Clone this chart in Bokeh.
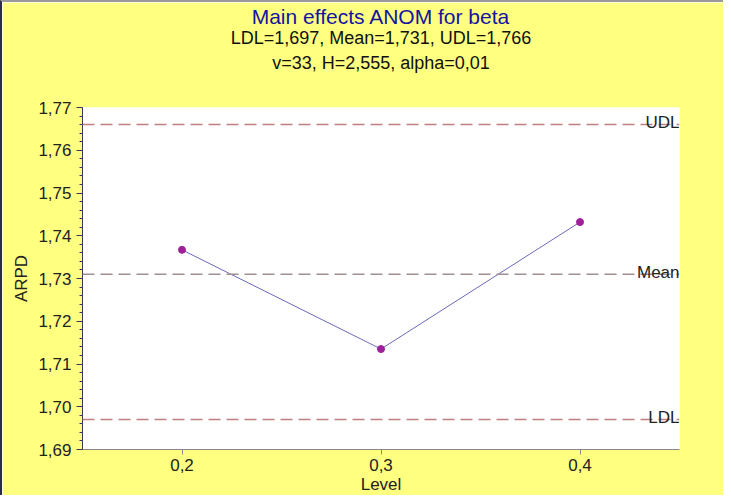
from bokeh.plotting import figure
from bokeh.models import FixedTicker, Span, Label, Range1d, Title, LinearAxis
from bokeh.embed import file_html
from bokeh.resources import INLINE
import numpy as np

# ---- data ----
levels = [0.2, 0.3, 0.4]
arpd = [1.7367, 1.7135, 1.7432]
limit_names = ["LDL", "Mean", "UDL"]
limit_values = [1.697, 1.731, 1.766]
x_ticks = [0.2, 0.3, 0.4]
x_tick_labels = ["0,2", "0,3", "0,4"]
y_ticks = [1.69, 1.70, 1.71, 1.72, 1.73, 1.74, 1.75, 1.76, 1.77]
y_tick_labels = ["1,69", "1,70", "1,71", "1,72", "1,73", "1,74", "1,75", "1,76", "1,77"]
title_text = "Main effects ANOM for beta"
subtitle1 = "LDL=1,697, Mean=1,731, UDL=1,766"
subtitle2 = "v=33, H=2,555, alpha=0,01"

FONT = "Liberation Sans"
YELLOW = "#FFFF80"
TXT = "#222222"

p = figure(width=721, height=493,
           min_border_left=80, min_border_right=46,
           min_border_top=103, min_border_bottom=48,
           x_range=Range1d(0.15, 0.45), y_range=Range1d(1.69, 1.77),
           output_backend="svg", toolbar_location=None,
           background_fill_color="white", border_fill_color=YELLOW,
           outline_line_color=None)
p.styles = {"border-top": "2px solid #9a9a9a", "border-left": "2px solid #2a2a4a",
            "box-sizing": "content-box"}
p.xgrid.grid_line_color = None
p.ygrid.grid_line_color = None

# y axis
minor = [float(v) for v in np.round(np.arange(1.69, 1.7701, 0.002), 3)]
p.yaxis.ticker = FixedTicker(ticks=y_ticks, minor_ticks=minor)
p.yaxis.major_label_overrides = dict(zip(y_ticks, y_tick_labels))
p.yaxis.axis_label = "ARPD"
p.yaxis.axis_line_color = "#3a3a60"
p.yaxis.major_tick_line_color = "#3a3a60"
p.yaxis.minor_tick_line_color = "#3a3a60"
p.yaxis.major_tick_out = 6
p.yaxis.major_tick_in = 0
p.yaxis.minor_tick_out = 3
p.yaxis.minor_tick_in = 0
p.yaxis.major_label_standoff = 5
p.yaxis.axis_label_standoff = 4

# x axis
p.xaxis.ticker = FixedTicker(ticks=x_ticks, minor_ticks=[])
p.xaxis.major_label_overrides = dict(zip(x_ticks, x_tick_labels))
p.xaxis.axis_label = "Level"
p.xaxis.axis_line_color = "#888888"
p.xaxis.major_tick_line_color = "#888888"
p.xaxis.major_tick_out = 5
p.xaxis.major_tick_in = 0
p.xaxis.minor_tick_line_color = None
p.xaxis.major_label_standoff = 4
p.xaxis.axis_label_standoff = 1

for ax in (p.xaxis[0], p.yaxis[0]):
    ax.major_label_text_font = FONT
    ax.major_label_text_font_size = "17px"
    ax.major_label_text_color = TXT
    ax.axis_label_text_font = FONT
    ax.axis_label_text_font_size = "17px"
    ax.axis_label_text_font_style = "normal"
    ax.axis_label_text_color = TXT

# limit lines
limit_colors = ["#c08080", "#a09090", "#c08080"]
for name, val, col in zip(limit_names, limit_values, limit_colors):
    p.add_layout(Span(location=val, dimension="width", line_color=col,
                      line_width=1.5, line_dash="12 6"))
    p.add_layout(Label(x=0.45, y=val, text=name, text_align="right",
                       text_baseline="alphabetic", y_offset=2,
                       text_font=FONT, text_font_size="17px",
                       text_color=TXT))

# data
p.line(levels, arpd, line_color="#6a6ab8", line_width=1)
p.scatter(levels, arpd, size=7, fill_color="#a0209a", line_color="#a0209a")

# second subtitle line: label of a bare axis above the frame
top_axis = LinearAxis(ticker=FixedTicker(ticks=[], minor_ticks=[]),
                      axis_line_color=None, major_tick_line_color=None,
                      minor_tick_line_color=None, major_tick_out=0,
                      major_tick_in=0, minor_tick_out=0, minor_tick_in=0,
                      major_label_standoff=0,
                      axis_label=subtitle2, axis_label_standoff=35,
                      axis_label_text_font=FONT,
                      axis_label_text_font_size="18px",
                      axis_label_text_font_style="normal",
                      axis_label_text_color="#111111")
p.add_layout(top_axis, "above")

# titles: first added sits closest to the frame
p.add_layout(Title(text=subtitle1, align="center", standoff=0,
                   vertical_align="top",
                   text_font=FONT, text_font_size="18px",
                   text_font_style="normal", text_color="#111111"), "above")
p.add_layout(Title(text=title_text, align="center", standoff=0,
                   text_font=FONT, text_font_size="21px",
                   text_font_style="normal", text_color="#1414a0"), "above")

open("out.html", "w").write(file_html(p, INLINE))
